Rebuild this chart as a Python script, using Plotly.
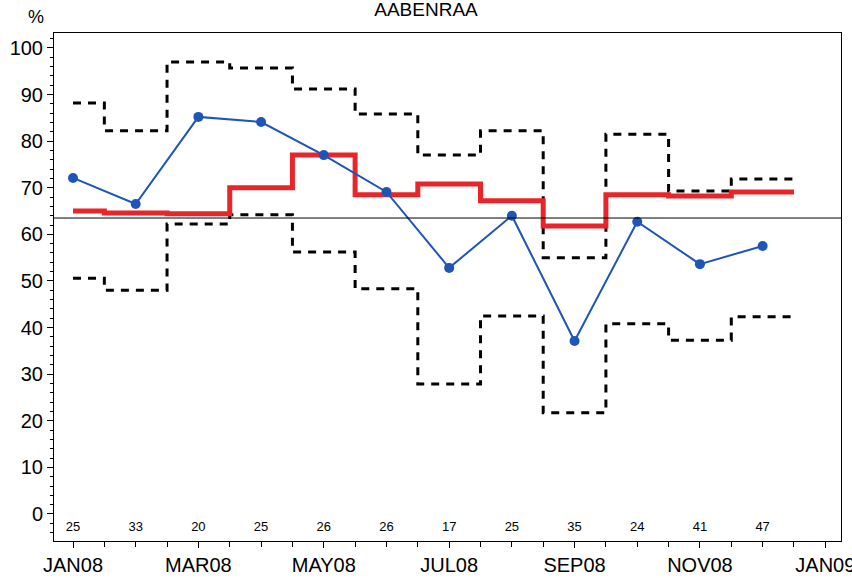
import plotly.graph_objects as go

months = ["JAN08", "FEB08", "MAR08", "APR08", "MAY08", "JUN08",
          "JUL08", "AUG08", "SEP08", "OCT08", "NOV08", "DEC08"]
tick_labels = ["JAN08", "MAR08", "MAY08", "JUL08", "SEP08", "NOV08", "JAN09"]
rate = [72.1, 66.5, 85.2, 84.1, 77.0, 69.1, 52.8, 64.0, 37.1, 62.7, 53.6, 57.5]
mean_level = [65.0, 64.6, 64.4, 70.0, 77.0, 68.5, 70.8, 67.2, 61.8, 68.5, 68.2, 69.1]
upper = [88.2, 82.2, 97.0, 95.7, 91.2, 85.8, 77.0, 82.2, 55.0, 81.5, 69.3, 71.9]
lower = [50.6, 48.0, 62.2, 64.2, 56.2, 48.3, 27.9, 42.5, 21.7, 40.8, 37.3, 42.3]
counts = [25, 33, 20, 25, 26, 26, 17, 25, 35, 24, 41, 47]
overall = 63.5

n = len(months)
x_pts = list(range(n))
# step boundaries: start at first point, then halfway between months
x_step = [0] + [i + 0.5 for i in range(n)]


def step_y(vals):
    return list(vals) + [vals[-1]]


font_family = "Liberation Sans Narrow, Liberation Sans, Arial, sans-serif"

fig = go.Figure()

dash_style = dict(color="black", width=3, dash="8px,7px")
fig.add_trace(go.Scatter(
    x=x_step, y=step_y(upper), mode="lines", line_shape="hv",
    line=dash_style, hoverinfo="skip"))
fig.add_trace(go.Scatter(
    x=x_step, y=step_y(lower), mode="lines", line_shape="hv",
    line=dash_style, hoverinfo="skip"))
fig.add_trace(go.Scatter(
    x=x_step, y=step_y(mean_level), mode="lines", line_shape="hv",
    line=dict(color="rgb(232,38,42)", width=5), hoverinfo="skip"))
fig.add_trace(go.Scatter(
    x=x_pts, y=rate, mode="lines+markers",
    line=dict(color="rgb(30,85,185)", width=2),
    marker=dict(color="rgb(30,85,185)", size=10)))
fig.add_trace(go.Scatter(
    x=x_pts, y=[-3] * n, mode="text", text=[str(c) for c in counts],
    textfont=dict(size=13, color="black", family=font_family),
    textposition="middle center", hoverinfo="skip"))

fig.add_hline(y=overall, line=dict(color="black", width=1))

fig.update_layout(
    width=852, height=578,
    margin=dict(l=54, r=11, t=33, b=37),
    paper_bgcolor="white", plot_bgcolor="white",
    showlegend=False,
    font=dict(family=font_family, color="black"),
    title=dict(text="AABENRAA", x=0.5, xanchor="center", y=1 - 9 / 578, yanchor="middle",
               automargin=False,
               font=dict(size=19, color="black", family=font_family)),
)

fig.update_xaxes(
    range=[-0.303, 12.25], automargin=False,
    tickmode="array", tickvals=list(range(0, 13, 2)), ticktext=tick_labels,
    ticks="outside", ticklen=6, tickwidth=1, tickcolor="black",
    tickfont=dict(size=20, color="black", family=font_family),
    ticklabeloverflow="allow",
    showline=True, linecolor="black", linewidth=1, mirror=True,
    showgrid=False, zeroline=False,
    minor=dict(ticks="outside", tick0=0, dtick=0.5, ticklen=5, tickcolor="black", showgrid=False),
)
fig.update_yaxes(
    range=[-5.8, 103.2], automargin=False,
    tickmode="linear", tick0=0, dtick=10,
    ticks="outside", ticklen=6, tickwidth=1, tickcolor="black",
    tickfont=dict(size=20, color="black", family=font_family),
    ticklabeloverflow="allow",
    showline=True, linecolor="black", linewidth=1, mirror=True,
    showgrid=False, zeroline=False,
    minor=dict(ticks="outside", tick0=0, dtick=2, ticklen=3, tickcolor="black", showgrid=False),
)

fig.add_annotation(text="%", xref="paper", yref="paper", x=-0.023, y=1.0,
                   xanchor="center", yanchor="bottom", showarrow=False,
                   font=dict(size=18, color="black", family=font_family), yshift=4)

fig.write_html("out.html", config={"displayModeBar": False},
               post_script="document.body.style.margin='0px';document.body.style.overflow='hidden';")
